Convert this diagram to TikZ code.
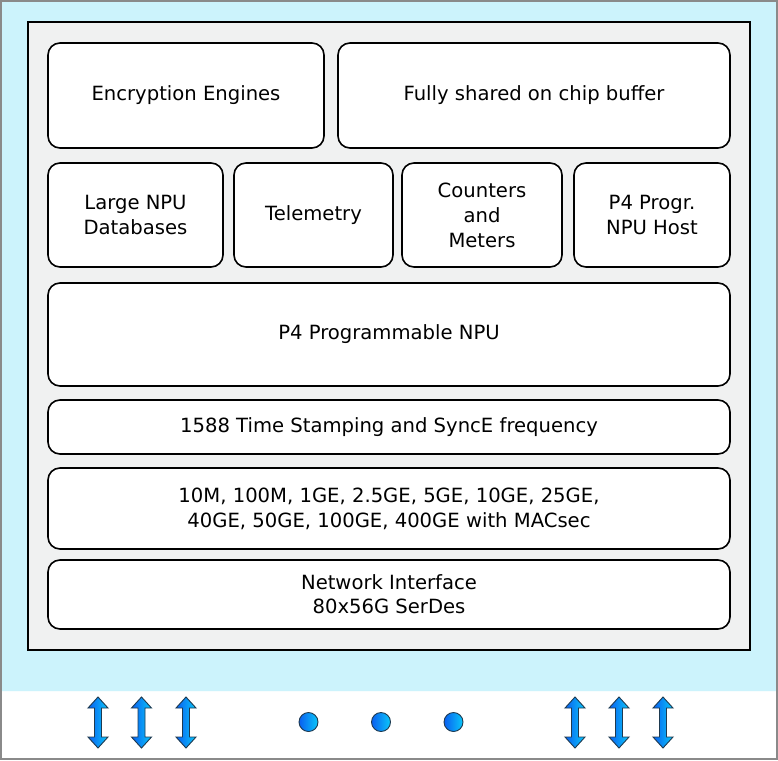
\documentclass[tikz,border=0pt]{standalone}
\usepackage{fontspec}
\setmainfont{DejaVu Sans}
\definecolor{bgblue}{HTML}{CCF3FC}
\definecolor{chipgray}{HTML}{F0F1F1}
\definecolor{framegray}{HTML}{8A8A8A}
\definecolor{darkblue}{HTML}{0A5FF0}
\definecolor{lightblue}{HTML}{0AC8FA}
\definecolor{edgeblue}{HTML}{1E3A50}
\tikzset{
  blk/.style={draw=black, line width=1.6pt, fill=white, rounded corners=12pt,
    align=center, font=\fontsize{19.6}{25}\selectfont, inner sep=0pt},
  dblarrow/.style={draw=edgeblue, line width=0.9pt, left color=darkblue, right color=lightblue, line join=miter},
  dotc/.style={circle, draw=edgeblue, line width=0.9pt, left color=darkblue, right color=lightblue, minimum size=19pt, inner sep=0pt}
}
\newcommand{\updown}[1]{%
  \path[dblarrow] (#1-10,708) -- (#1,697) -- (#1+10,708) -- (#1+3.5,708) -- (#1+3.5,737) -- (#1+10,737) -- (#1,748) -- (#1-10,737) -- (#1-3.5,737) -- (#1-3.5,708) -- cycle;}
\begin{document}
\begin{tikzpicture}[x=1pt,y=-1pt]
\useasboundingbox (0,0) rectangle (778,760);
% background
\fill[bgblue] (0,0) rectangle (778,691);
\fill[white] (0,692) rectangle (778,760);
\draw[white!85!bgblue, line width=1pt] (0,691.5) -- (778,691.5);
\draw[framegray, line width=2pt] (1,1) rectangle (777,759);
% chip
\node[draw=black, line width=1.8pt, fill=chipgray, minimum width=722pt, minimum height=628pt, inner sep=0pt] (chip) at (389,336) {};
% blocks
\node[blk, minimum width=276pt, minimum height=105pt] (enc) at (186,95.5) {Encryption Engines};
\node[blk, minimum width=392pt, minimum height=105pt] (buf) at (534,95.5) {Fully shared on chip buffer};
\node[blk, minimum width=175pt, minimum height=104pt] (db) at (135.5,215) {Large NPU\\Databases};
\node[blk, minimum width=159pt, minimum height=104pt] (tel) at (313.5,215) {Telemetry};
\node[blk, minimum width=160pt, minimum height=104pt] (cnt) at (482,215) {Counters\\and\\Meters};
\node[blk, minimum width=156pt, minimum height=104pt] (host) at (652,215) {P4 Progr.\\NPU Host};
\node[blk, minimum width=682pt, minimum height=103pt] (npu) at (389,334.5) {P4 Programmable NPU};
\node[blk, minimum width=682pt, minimum height=54pt] (ts) at (389,427) {1588 Time Stamping and SyncE frequency};
\node[blk, minimum width=682pt, minimum height=81pt] (mac) at (389,508.5) {10M, 100M, 1GE, 2.5GE, 5GE, 10GE, 25GE,\\40GE, 50GE, 100GE, 400GE with MACsec};
\node[blk, minimum width=682pt, minimum height=69pt, font=\fontsize{19.6}{24}\selectfont] (ni) at (389,594.5) {Network Interface\\80x56G SerDes};
% arrows
\updown{98}
\updown{141.5}
\updown{186}
\updown{575}
\updown{619}
\updown{663}
% dots
\node[dotc] (d1) at (308.5,722) {};
\node[dotc] (d2) at (381,722) {};
\node[dotc] (d3) at (453.5,722) {};
\end{tikzpicture}
\end{document}
